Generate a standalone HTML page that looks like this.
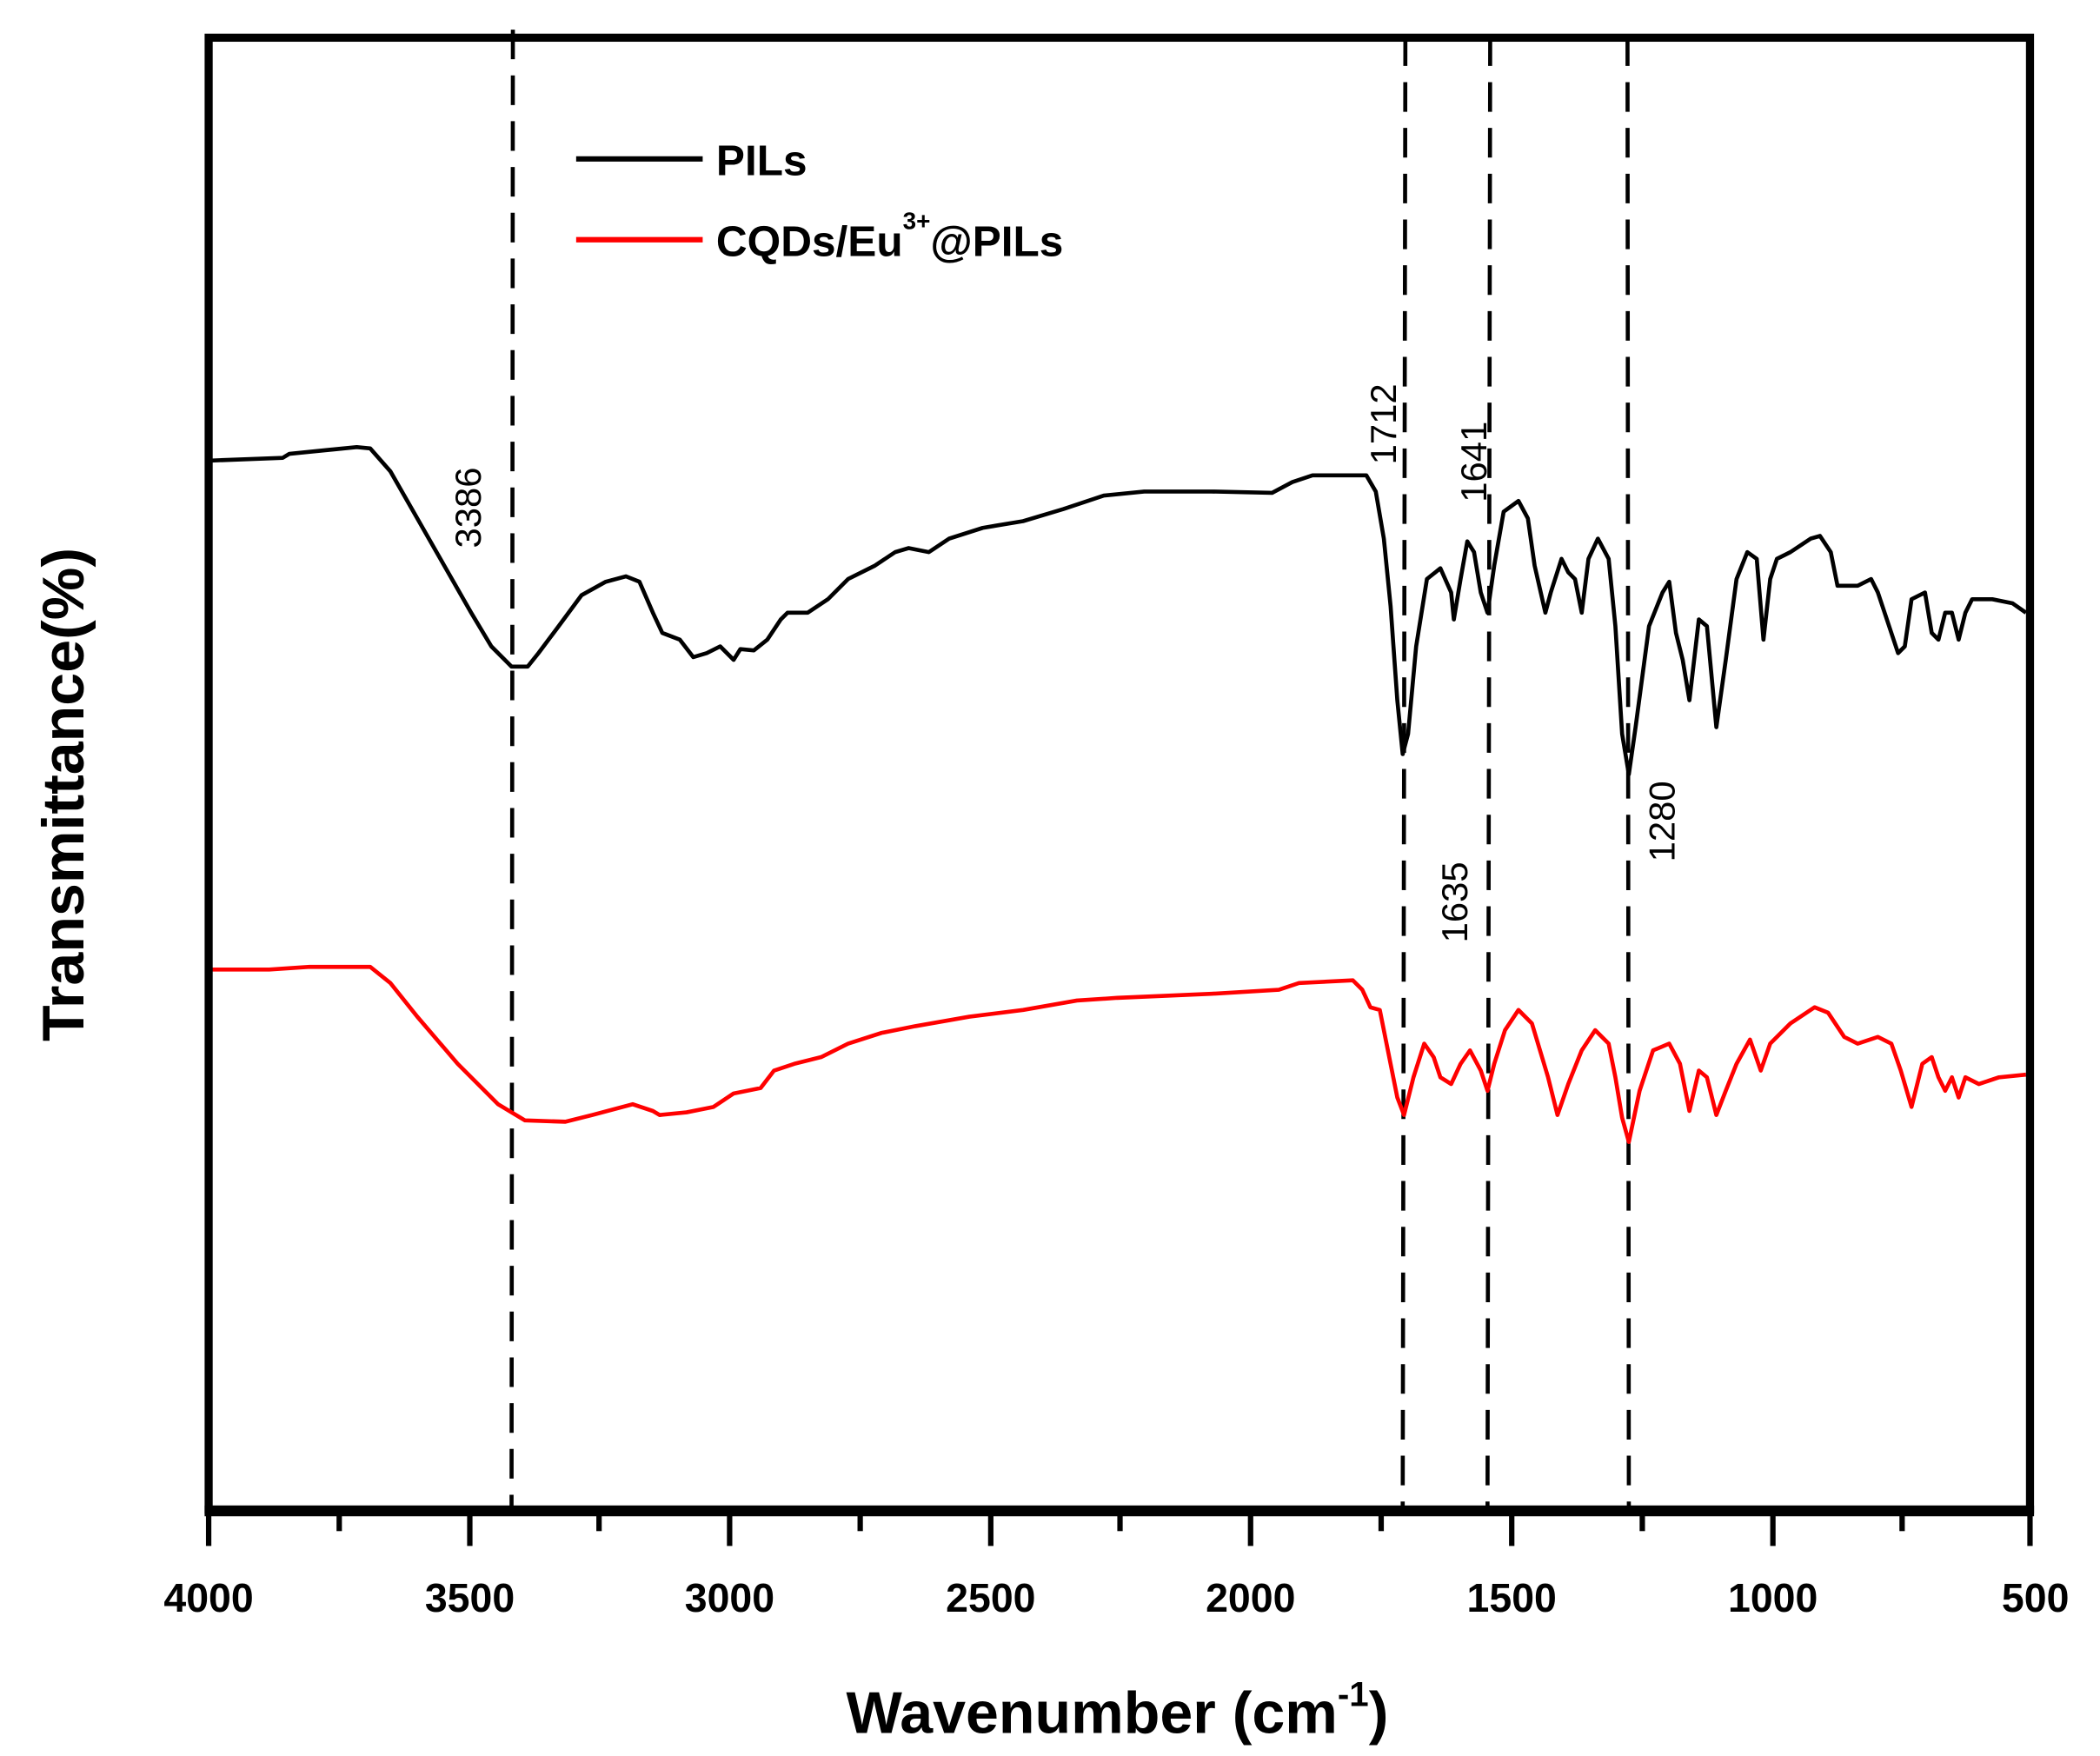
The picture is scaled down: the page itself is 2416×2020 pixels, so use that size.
<!DOCTYPE html>
<html><head><meta charset="utf-8"><style>
html,body{margin:0;padding:0;background:#fff;}
svg{display:block;}
text{font-family:"Liberation Sans",Arial,sans-serif;}
</style></head><body>
<svg width="2416" height="2020" viewBox="0 0 1560 1304" preserveAspectRatio="none" xmlns="http://www.w3.org/2000/svg">
<rect width="1560" height="1304" fill="#fff"/>
<!-- dashed lines -->
<g stroke="#000" stroke-width="3" stroke-dasharray="22,12" fill="none">
<line x1="381" y1="22" x2="380" y2="1123"/>
<line x1="1044" y1="27" x2="1042" y2="1123"/>
<line x1="1107" y1="27" x2="1105" y2="1123"/>
<line x1="1209" y1="27" x2="1210" y2="1123"/>
</g>
<!-- black curve -->
<polyline fill="none" stroke="#000" stroke-width="3" stroke-linejoin="round" points="157,342 210,340 215,337 265,332 275,333 290,350 310,385 330,420 350,455 365,480 380,495 392,495 400,485 415,465 432,442 450,432 465,428 475,432 485,455 492,470 505,475 515,488 525,485 535,480 545,490 550,482 560,483 570,475 580,460 585,455 600,455 615,445 630,430 650,420 665,410 675,407 690,410 705,400 730,392 760,387 790,378 820,368 850,365 900,365 945,366 960,358 975,353 1015,353 1022,365 1028,400 1033,450 1038,520 1042,560 1046,545 1052,480 1060,430 1070,422 1078,440 1080,460 1085,430 1090,402 1095,410 1100,440 1105,455 1110,420 1117,380 1128,372 1135,385 1140,420 1148,455 1152,440 1160,415 1165,425 1170,430 1175,455 1180,415 1187,400 1195,415 1200,465 1205,545 1210,575 1215,540 1225,465 1235,440 1240,432 1245,470 1250,490 1255,520 1262,460 1268,465 1275,540 1282,490 1290,430 1298,410 1305,415 1310,475 1315,430 1320,415 1330,410 1345,400 1352,398 1360,410 1365,435 1380,435 1390,430 1395,440 1405,470 1410,485 1415,480 1420,445 1430,440 1435,470 1440,475 1445,455 1450,455 1455,475 1460,455 1465,445 1480,445 1495,448 1505,455"/>
<!-- red curve -->
<polyline fill="none" stroke="#f00" stroke-width="3" stroke-linejoin="round" points="157,720 200,720 230,718 275,718 290,730 310,755 340,790 370,820 390,832 420,833 440,828 470,820 485,825 490,828 510,826 530,822 545,812 565,808 575,795 590,790 610,785 630,775 655,767 680,762 720,755 760,750 800,743 830,741 900,738 950,735 965,730 1005,728 1012,735 1018,748 1025,750 1030,775 1038,815 1043,828 1050,800 1058,775 1065,785 1070,800 1078,805 1085,790 1092,780 1100,795 1105,810 1110,790 1118,765 1128,750 1138,760 1150,800 1157,828 1165,805 1175,780 1185,765 1195,775 1200,800 1205,830 1210,848 1218,810 1228,780 1240,775 1248,790 1255,825 1262,795 1268,800 1275,828 1282,810 1290,790 1300,772 1308,795 1315,775 1330,760 1348,748 1358,752 1370,770 1380,775 1395,770 1405,775 1412,795 1420,822 1428,790 1435,785 1440,800 1445,810 1450,800 1455,815 1460,800 1470,805 1485,800 1505,798"/>
<!-- frame -->
<rect x="155" y="28" width="1353" height="1093" fill="none" stroke="#000" stroke-width="6"/>
<line x1="152" y1="1122" x2="1511" y2="1122" stroke="#000" stroke-width="8"/>
<!-- ticks -->
<g stroke="#000" stroke-width="4">
<line x1="155" y1="1122" x2="155" y2="1148"/>
<line x1="349" y1="1122" x2="349" y2="1148"/>
<line x1="542" y1="1122" x2="542" y2="1148"/>
<line x1="736" y1="1122" x2="736" y2="1148"/>
<line x1="929" y1="1122" x2="929" y2="1148"/>
<line x1="1123" y1="1122" x2="1123" y2="1148"/>
<line x1="1317" y1="1122" x2="1317" y2="1148"/>
<line x1="1508" y1="1122" x2="1508" y2="1148"/>
<line x1="252" y1="1122" x2="252" y2="1137"/>
<line x1="445" y1="1122" x2="445" y2="1137"/>
<line x1="639" y1="1122" x2="639" y2="1137"/>
<line x1="832" y1="1122" x2="832" y2="1137"/>
<line x1="1026" y1="1122" x2="1026" y2="1137"/>
<line x1="1220" y1="1122" x2="1220" y2="1137"/>
<line x1="1413" y1="1122" x2="1413" y2="1137"/>
</g>
<g font-size="30" font-weight="bold" text-anchor="middle">
<text x="155" y="1197">4000</text>
<text x="349" y="1197">3500</text>
<text x="542" y="1197">3000</text>
<text x="736" y="1197">2500</text>
<text x="929" y="1197">2000</text>
<text x="1123" y="1197">1500</text>
<text x="1317" y="1197">1000</text>
<text x="1512" y="1197">500</text>
</g>
<text x="830" y="1287" font-size="44" font-weight="bold" text-anchor="middle">Wavenumber (cm<tspan font-size="26" dy="-20">-1</tspan><tspan dy="20">)</tspan></text>
<text transform="translate(62,590) rotate(-90)" font-size="44" font-weight="bold" text-anchor="middle">Transmittance(%)</text>
<!-- legend -->
<line x1="428" y1="118" x2="522" y2="118" stroke="#000" stroke-width="4"/>
<line x1="428" y1="178" x2="522" y2="178" stroke="#f00" stroke-width="4"/>
<text x="532" y="130" font-size="32" font-weight="bold">PILs</text>
<text x="532" y="190" font-size="32" font-weight="bold">CQDs/Eu<tspan font-size="18" dy="-20">3+</tspan><tspan dy="20">@PILs</tspan></text>
<!-- annotations -->
<g font-size="27">
<text transform="translate(357,407) rotate(-90)">3386</text>
<text transform="translate(1037,345) rotate(-90)">1712</text>
<text transform="translate(1104,373) rotate(-90)">1641</text>
<text transform="translate(1090,700) rotate(-90)">1635</text>
<text transform="translate(1244,640) rotate(-90)">1280</text>
</g>
</svg>
</body></html>
